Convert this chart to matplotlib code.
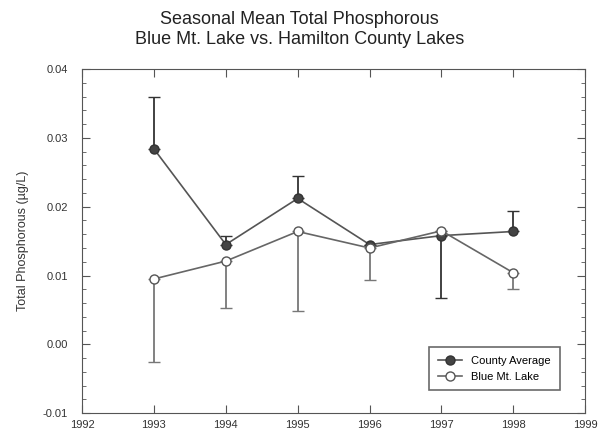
import numpy as np
import matplotlib
matplotlib.use("Agg")
import matplotlib.pyplot as plt
from matplotlib.ticker import MultipleLocator

plt.rcParams['font.family'] = ['Liberation Sans', 'DejaVu Sans']

# data
years = [1993, 1994, 1995, 1996, 1997, 1998]
county = [0.0284, 0.0145, 0.0212, 0.0145, 0.0158, 0.0164]
county_lo = [0.0, 0.0, 0.0, 0.0, 0.0091, 0.0]
county_hi = [0.0075, 0.0012, 0.0033, 0.0, 0.0, 0.0030]
blue = [0.0095, 0.0121, 0.0164, 0.0140, 0.0165, 0.0104]
blue_lo = [0.0121, 0.0068, 0.0115, 0.0046, 0.0, 0.0023]
blue_hi = [0.0, 0.0, 0.0, 0.0, 0.0, 0.0]

fig = plt.figure(figsize=(5.99, 4.40), dpi=100)
ax = fig.add_axes([0.137, 0.061, 0.840, 0.782])

c1 = ax.errorbar(years, county, yerr=[county_lo, county_hi], color='#555555',
                 ecolor='#333333', elinewidth=1.3, capsize=4, lw=1.2,
                 marker='o', ms=6.5, mfc='#444444', mec='#333333')
c2 = ax.errorbar(years, blue, yerr=[blue_lo, blue_hi], color='#666666',
                 ecolor='#777777', elinewidth=1.3, capsize=4, lw=1.2,
                 marker='o', ms=6.5, mfc='white', mec='#555555')

ax.set_xlim(1992, 1999)
ax.set_ylim(-0.01, 0.04)
ax.xaxis.set_major_locator(MultipleLocator(1))
ax.yaxis.set_major_locator(MultipleLocator(0.01))
ax.yaxis.set_minor_locator(MultipleLocator(0.002))
ax.yaxis.set_major_formatter(matplotlib.ticker.FormatStrFormatter('%.2f'))
ax.tick_params(which='both', direction='in', top=True, right=True,
               labelsize=8, color='#555555', labelcolor='#333333')
ax.tick_params(which='major', length=6)
ax.tick_params(which='minor', length=3)
ax.tick_params(axis='y', pad=10)
ax.tick_params(axis='x', pad=5)
for s in ax.spines.values():
    s.set_color('#555555')

ax.set_ylabel('Total Phosphorous (µg/L)', fontsize=9, color='#333333', labelpad=10)
fig.suptitle('Seasonal Mean Total Phosphorous\nBlue Mt. Lake vs. Hamilton County Lakes',
             fontsize=13, y=0.975, color='#222222')

leg = ax.legend([c1[0], c2[0]], ['County Average', 'Blue Mt. Lake'],
                loc='lower right', fontsize=8, frameon=True, fancybox=False,
                edgecolor='#444444', borderpad=0.8, handlelength=2.2,
                bbox_to_anchor=(0.96, 0.05))
leg.get_frame().set_linewidth(1.2)

fig.savefig('out.png', dpi=100)
